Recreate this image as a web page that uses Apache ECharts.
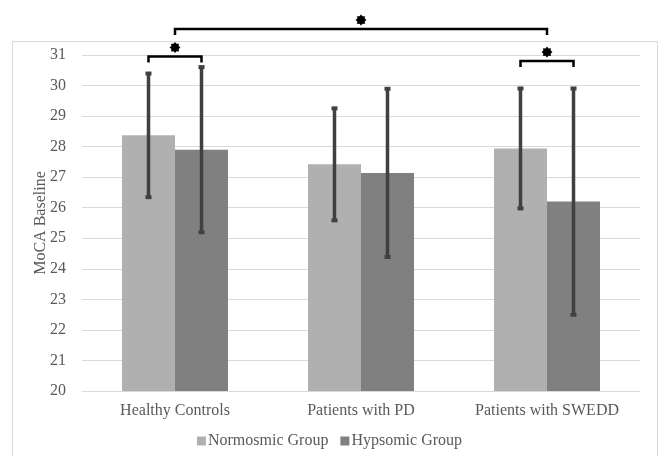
<!DOCTYPE html>
<html><head><meta charset="utf-8">
<script src="https://cdn.jsdelivr.net/npm/echarts@6/dist/echarts.min.js"></script>
<style>html,body{margin:0;padding:0;background:#fff}#c{width:659px;height:456px}</style>
</head><body><div id="c"></div>
<script>
const categories = ['Healthy Controls', 'Patients with PD', 'Patients with SWEDD'];
const seriesNames = ['Normosmic Group', 'Hypsomic Group'];
const normosmicMean = [28.37, 27.42, 27.94];
const normosmicSD = [2.04, 1.85, 1.98];
const hypsomicMean = [27.9, 27.14, 26.2];
const hypsomicSD = [2.72, 2.77, 3.72];
const yTicks = [20, 21, 22, 23, 24, 25, 26, 27, 28, 29, 30, 31];
// significance brackets: [fromCategory, fromSeries(-1=center), toCategory, toSeries, level]
const bracketFromCat = [0, 0, 2];
const bracketFromSer = [0, -1, 0];
const bracketToCat = [0, 2, 2];
const bracketToSer = [1, -1, 1];
const bracketLevel = [30.95, 31.85, 30.8];

const FONT = 'Liberation Serif';
const TXT = '#595959';
const CAT_GAP = 0.43;

function seriesOffset(api, ser) {
  if (ser < 0) return 0;
  const band = api.size([1, 0])[0];
  const bw = band * (1 - CAT_GAP) / 2;
  return ser === 0 ? -bw / 2 : bw / 2;
}

function errData(mean, sd) {
  return mean.map((m, i) => [i, m - sd[i], m + sd[i]]);
}

function errSeries(name, mean, sd, ser) {
  return {
    type: 'custom', name: name + ' err', silent: true, z: 5,
    data: errData(mean, sd),
    encode: { x: 0, y: [1, 2] },
    renderItem: function (params, api) {
      const lo = api.coord([api.value(0), api.value(1)]);
      const hi = api.coord([api.value(0), api.value(2)]);
      const x = lo[0] + seriesOffset(api, ser);
      const c = '#404040';
      return { type: 'group', children: [
        { type: 'line', shape: { x1: x, y1: hi[1], x2: x, y2: lo[1] }, style: { stroke: c, lineWidth: 3.5 } },
        { type: 'rect', shape: { x: x - 3, y: hi[1] - 1.5, width: 6, height: 4 }, style: { fill: c } },
        { type: 'rect', shape: { x: x - 3, y: lo[1] - 2.5, width: 6, height: 4 }, style: { fill: c } }
      ]};
    }
  };
}

function starPoints(cx, cy, ro, ri) {
  const pts = [];
  for (let k = 0; k < 16; k++) {
    const a = Math.PI * k / 8 - Math.PI / 2;
    const r = k % 2 === 0 ? ro : ri;
    pts.push([cx + r * Math.cos(a), cy + r * Math.sin(a)]);
  }
  return pts;
}

const bracketData = bracketLevel.map((lv, i) => [bracketFromCat[i], bracketFromSer[i], bracketToCat[i], bracketToSer[i], lv]);

const chart = echarts.init(document.getElementById('c'), null, { renderer: 'canvas' });
chart.setOption({
  animation: false,
  backgroundColor: '#fff',
  textStyle: { fontFamily: FONT },
  graphic: [{ type: 'rect', left: 10, top: 39, shape: { width: 645, height: 430 }, style: { fill: 'none', stroke: '#d9d9d9', lineWidth: 1 }, silent: true, z: -10 }],
  grid: { left: 82, right: 19, top: 55, bottom: 65 },
  legend: {
    data: seriesNames, bottom: 2, left: 'center', icon: 'rect', itemWidth: 9, itemHeight: 9, itemGap: 12,
    textStyle: { fontFamily: FONT, fontSize: 16, color: TXT, padding: [0, 0, 0, -3] }
  },
  xAxis: {
    type: 'category', data: categories,
    axisLine: { lineStyle: { color: '#d9d9d9', width: 1 } },
    axisTick: { show: false },
    axisLabel: { fontFamily: FONT, fontSize: 16, color: TXT, margin: 12, interval: 0 }
  },
  yAxis: {
    type: 'value', min: yTicks[0], max: yTicks[yTicks.length - 1], interval: 1,
    name: 'MoCA Baseline', nameLocation: 'middle', nameGap: 33, nameMoveOverlap: false,
    nameTextStyle: { fontFamily: FONT, fontSize: 16, color: TXT },
    axisLine: { show: false }, axisTick: { show: false },
    axisLabel: { fontFamily: FONT, fontSize: 16, color: TXT, margin: 16 },
    splitLine: { lineStyle: { color: '#d9d9d9', width: 1 } }
  },
  series: [
    { type: 'bar', name: seriesNames[0], data: normosmicMean, itemStyle: { color: '#b0b0b0' }, barGap: '0%', barCategoryGap: (CAT_GAP * 100) + '%' },
    { type: 'bar', name: seriesNames[1], data: hypsomicMean, itemStyle: { color: '#808080' }, barGap: '0%', barCategoryGap: (CAT_GAP * 100) + '%' },
    errSeries(seriesNames[0], normosmicMean, normosmicSD, 0),
    errSeries(seriesNames[1], hypsomicMean, hypsomicSD, 1),
    {
      type: 'custom', name: 'brackets', silent: true, clip: false, z: 6,
      data: bracketData,
      encode: { x: [0, 2], y: 4 },
      renderItem: function (params, api) {
        const p1 = api.coord([api.value(0), api.value(4)]);
        const p2 = api.coord([api.value(2), api.value(4)]);
        const x1 = p1[0] + seriesOffset(api, api.value(1));
        const x2 = p2[0] + seriesOffset(api, api.value(3));
        const y = p1[1];
        const tip = 6;
        const mx = (x1 + x2) / 2;
        return { type: 'group', children: [
          { type: 'polyline', shape: { points: [[x1, y + tip], [x1, y], [x2, y], [x2, y + tip]] }, style: { stroke: '#000', lineWidth: 2.5, fill: 'none' } },
          { type: 'polygon', shape: { points: starPoints(mx, y - 9, 5.5, 4) }, style: { fill: '#000' } }
        ]};
      }
    }
  ]
});
</script></body></html>
